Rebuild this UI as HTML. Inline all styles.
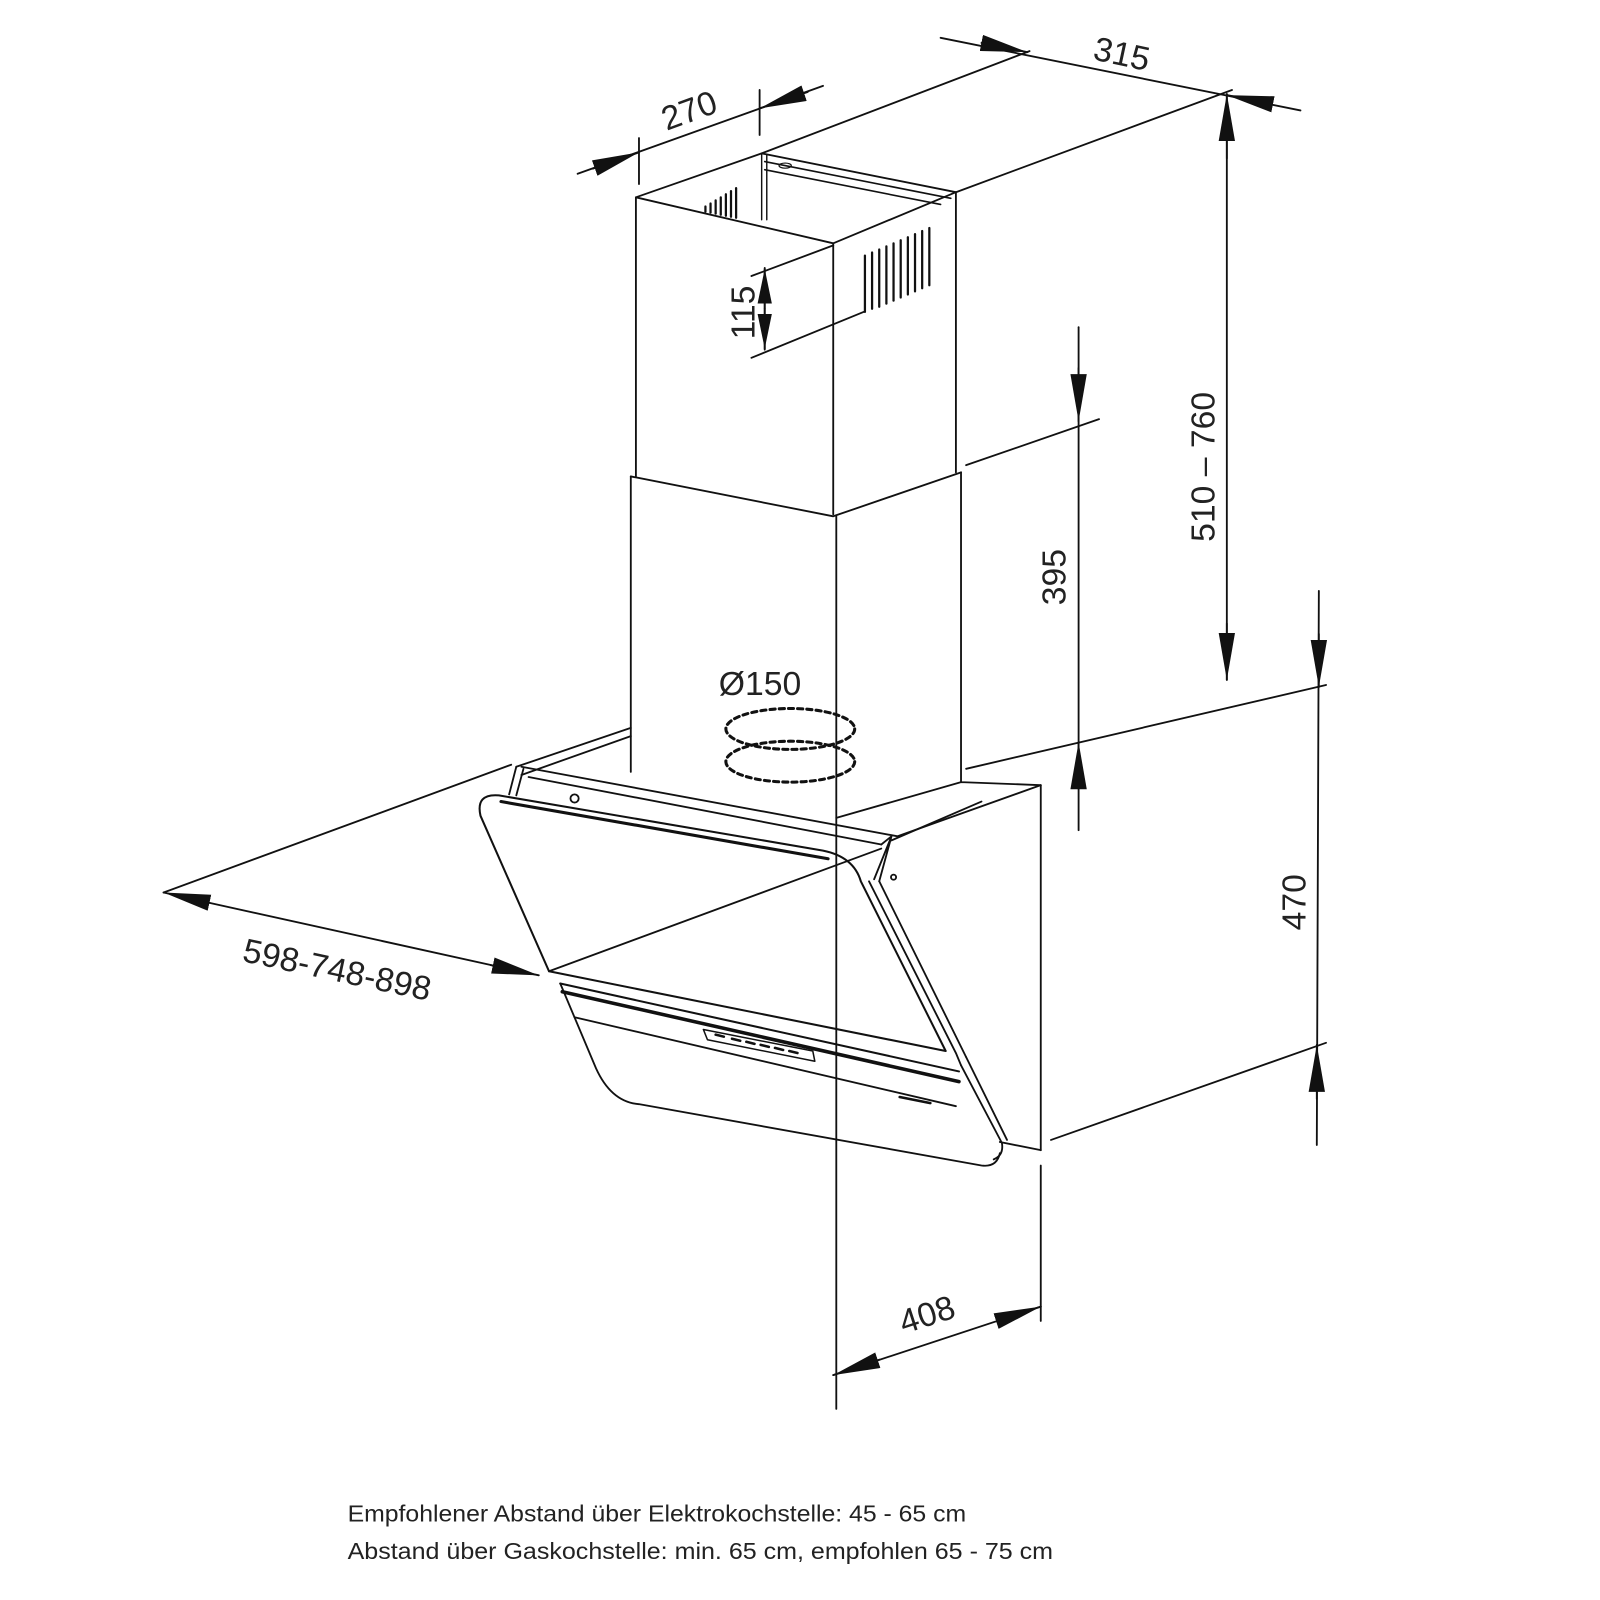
<!DOCTYPE html>
<html><head><meta charset="utf-8"><style>
html,body{margin:0;padding:0;background:#fff;}
svg{display:block;}
text{font-family:"Liberation Sans",sans-serif;fill:#222;}
</style></head><body>
<svg width="1600" height="1600" viewBox="0 0 1565 1565" xmlns="http://www.w3.org/2000/svg">
<defs>
<marker id="a" viewBox="0 0 10 10" refX="10" refY="5" markerWidth="46" markerHeight="16" markerUnits="userSpaceOnUse" orient="auto" preserveAspectRatio="none"><path d="M0,0 L10,5 L0,10 Z" fill="#111"/></marker>
<marker id="b" viewBox="0 0 10 10" refX="10" refY="5" markerWidth="34" markerHeight="14" markerUnits="userSpaceOnUse" orient="auto" preserveAspectRatio="none"><path d="M0,0 L10,5 L0,10 Z" fill="#111"/></marker>
</defs>
<g stroke="#111" stroke-width="1.8" fill="none" stroke-linecap="round" stroke-linejoin="round">
<path d="M622,193 L745,150 L935,188 L815,238 Z"/>
<line x1="622" y1="193" x2="622" y2="466"/>
<line x1="815" y1="238" x2="815" y2="503"/>
<line x1="935" y1="188" x2="935" y2="462"/>
<path d="M745,150 L745,215 M750,152 L750,215" stroke-width="1.4"/>
<path d="M748,158 L930,194 M748,166 L920,200" stroke-width="1.6"/>
<ellipse cx="768" cy="162" rx="6" ry="2.5" stroke-width="1.2"/>
<g stroke-width="2.2">
<line x1="846" y1="250" x2="846" y2="305"/><line x1="853" y1="247" x2="853" y2="302"/><line x1="860" y1="244" x2="860" y2="300"/><line x1="867" y1="241" x2="867" y2="297"/><line x1="874" y1="238" x2="874" y2="294"/><line x1="881" y1="235" x2="881" y2="291"/><line x1="888" y1="232" x2="888" y2="288"/><line x1="895" y1="229" x2="895" y2="285"/><line x1="902" y1="226" x2="902" y2="282"/><line x1="909" y1="223" x2="909" y2="279"/>
<line x1="690" y1="202" x2="690" y2="207"/><line x1="695" y1="199" x2="695" y2="208"/><line x1="700" y1="196" x2="700" y2="209"/><line x1="705" y1="193" x2="705" y2="210"/><line x1="710" y1="190" x2="710" y2="211"/><line x1="715" y1="187" x2="715" y2="212"/><line x1="720" y1="184" x2="720" y2="213"/>
</g>
<path d="M617,466 L815,505 L940,462"/>
<line x1="617" y1="466" x2="617" y2="755"/>
<line x1="818" y1="505" x2="818" y2="1378"/>
<line x1="940" y1="462" x2="940" y2="765"/>
<path d="M505,750 L617,712 M510,758 L617,720"/>
<path d="M505,750 L498,777 M512,752 L505,778"/>
<path d="M510,750 L878,818 L1018,768"/>
<path d="M517,760 L862,826"/>
<path d="M872,822 L960,784 M940,765 L1018,768 M818,800 L940,765"/>
<path d="M488,778 L805,832 Q835,838 842,862 L925,1028 L537,950 L470,798 Q465,776 488,778 Z" stroke-width="2"/>
<path d="M490,784 L810,840" stroke-width="3"/>
<circle cx="562" cy="781" r="4"/>
<path d="M862,826 L872,818 L855,860 M872,818 L860,862"/>
<path d="M850,862 L935,1030 L940,1042 M860,862 L945,1034"/>
<path d="M940,1042 L980,1118 Q982,1130 972,1134"/>
<path d="M945,1034 L985,1115"/>
<circle cx="874" cy="858" r="2.5"/>
<path d="M548,962 L938,1048" stroke-width="2"/>
<path d="M550,970 L938,1058" stroke-width="3.5"/>
<path d="M562,995 L935,1082"/>
<path d="M548,962 L583,1045 Q598,1078 625,1080 L960,1140 Q975,1142 978,1128"/>
<path d="M688,1007 L795,1028 L797,1038 L692,1017 Z" stroke-width="1.5"/>
<g stroke-width="2.5"><line x1="700" y1="1012" x2="708" y2="1014"/><line x1="716" y1="1016" x2="724" y2="1018"/><line x1="730" y1="1019" x2="738" y2="1021"/><line x1="744" y1="1022" x2="752" y2="1024"/><line x1="758" y1="1025" x2="766" y2="1027"/><line x1="772" y1="1028" x2="780" y2="1030"/></g>
<line x1="880" y1="1073" x2="910" y2="1079" stroke-width="2.5"/>
<line x1="1018" y1="768" x2="1018" y2="1125"/>
<line x1="978" y1="1117" x2="1018" y2="1125"/>
<g stroke-dasharray="5,4" stroke-width="3">
<ellipse cx="773" cy="713" rx="63" ry="20"/>
<ellipse cx="773" cy="745" rx="63" ry="20"/>
</g>
<line x1="565" y1="170" x2="805" y2="84"/>
<line x1="625" y1="135" x2="625" y2="180"/>
<line x1="743" y1="88" x2="743" y2="132"/>
<line x1="580" y1="165" x2="625" y2="149" marker-end="url(#a)"/>
<line x1="790" y1="90" x2="743" y2="106" marker-end="url(#a)"/>
<line x1="745" y1="150" x2="1007" y2="50"/>
<line x1="935" y1="188" x2="1205" y2="88"/>
<line x1="920" y1="37" x2="1272" y2="108"/>
<line x1="960" y1="42" x2="1005" y2="51" marker-end="url(#a)"/>
<line x1="1240" y1="101" x2="1200" y2="93" marker-end="url(#a)"/>
<line x1="1200" y1="92" x2="1200" y2="665"/>
<line x1="1200" y1="155" x2="1200" y2="92" marker-end="url(#a)"/>
<line x1="1200" y1="610" x2="1200" y2="665" marker-end="url(#a)"/>
<line x1="735" y1="270" x2="815" y2="240"/>
<line x1="735" y1="350" x2="845" y2="305"/>
<line x1="748" y1="262" x2="748" y2="342"/>
<line x1="748" y1="302" x2="748" y2="263" marker-end="url(#b)"/>
<line x1="748" y1="302" x2="748" y2="341" marker-end="url(#b)"/>
<line x1="945" y1="455" x2="1075" y2="410"/>
<line x1="945" y1="752" x2="1297" y2="670"/>
<line x1="1055" y1="320" x2="1055" y2="812"/>
<line x1="1055" y1="360" x2="1055" y2="412" marker-end="url(#a)"/>
<line x1="1055" y1="770" x2="1055" y2="726" marker-end="url(#a)"/>
<line x1="1290" y1="578" x2="1288" y2="1120"/>
<line x1="1290" y1="620" x2="1290" y2="672" marker-end="url(#a)"/>
<line x1="1288" y1="1075" x2="1288" y2="1022" marker-end="url(#a)"/>
<line x1="1028" y1="1115" x2="1297" y2="1020"/>
<line x1="160" y1="873" x2="500" y2="748"/>
<line x1="537" y1="950" x2="862" y2="830"/>
<line x1="205" y1="883" x2="160" y2="873" marker-end="url(#a)"/>
<line x1="480" y1="944" x2="527" y2="954" marker-end="url(#a)"/>
<line x1="200" y1="882" x2="485" y2="945"/>
<line x1="1018" y1="1140" x2="1018" y2="1292"/>
<line x1="815" y1="1345" x2="1018" y2="1278"/>
<line x1="860" y1="1330" x2="815" y2="1345" marker-end="url(#a)"/>
<line x1="975" y1="1292" x2="1018" y2="1278" marker-end="url(#a)"/>
</g>
<g font-size="33" stroke="none">
<text x="0" y="0" transform="translate(652,128) rotate(-20)">270</text>
<text x="0" y="0" transform="translate(1068,58) rotate(12)">315</text>
<text x="0" y="0" transform="translate(738,332) rotate(-90)">115</text>
<text x="0" y="0" transform="translate(1188,530) rotate(-90)">510 – 760</text>
<text x="0" y="0" transform="translate(1042,592) rotate(-90)">395</text>
<text x="0" y="0" transform="translate(1277,910) rotate(-90)">470</text>
<text x="0" y="0" transform="translate(236,940) rotate(12)">598-748-898</text>
<text x="0" y="0" transform="translate(884,1305) rotate(-18)">408</text>
<text x="703" y="680">Ø150</text>
</g>
<g font-size="23" stroke="none" fill="#333">
<text x="340" y="1488" textLength="605" lengthAdjust="spacingAndGlyphs">Empfohlener Abstand über Elektrokochstelle: 45 - 65 cm</text>
<text x="340" y="1525" textLength="690" lengthAdjust="spacingAndGlyphs">Abstand über Gaskochstelle: min. 65 cm, empfohlen 65 - 75 cm</text>
</g>
</svg>
</body></html>
